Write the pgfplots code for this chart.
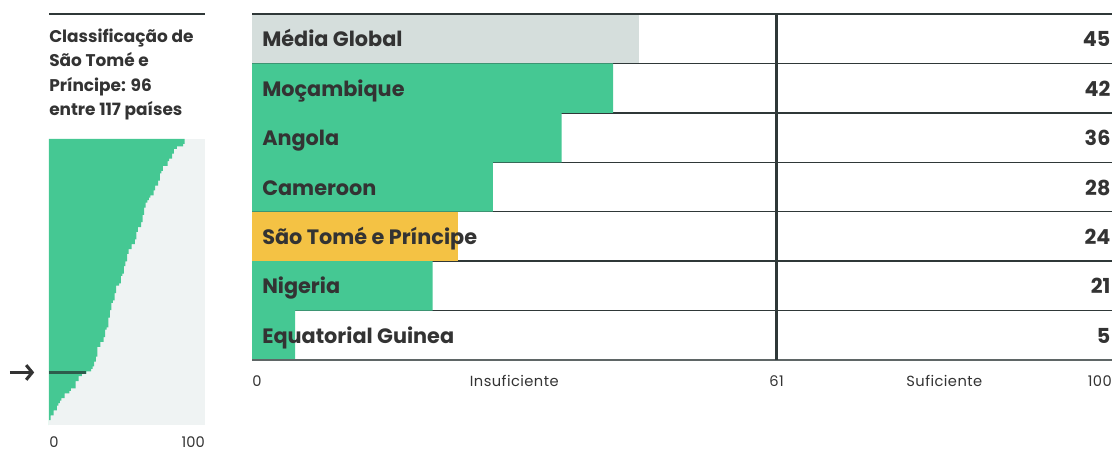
\documentclass[border=0pt]{standalone}
\usepackage{fontspec}
\setmainfont{Poppins}
\usepackage{pgfplots}
\pgfplotsset{compat=1.18}
\usetikzlibrary{arrows.meta}
\definecolor{cgreen}{HTML}{45C893}
\definecolor{cgray}{HTML}{D5DEDC}
\definecolor{cyellow}{HTML}{F4C244}
\definecolor{cbg}{HTML}{EFF3F3}
\definecolor{cline}{HTML}{2F3838}
\definecolor{cbot}{HTML}{5F6666}
\definecolor{ctext}{HTML}{333333}
\definecolor{chl}{HTML}{2D5C4C}
\tikzset{lab/.style={anchor=base west, inner sep=0pt, xshift=7.5pt, yshift=-6.1pt, font=\fontsize{15.6}{18}\selectfont\bfseries, text=ctext},
  val/.style={anchor=base east, inner sep=0pt, xshift=-1pt, yshift=-6.1pt, font=\fontsize{15.5}{18}\selectfont\bfseries, text=ctext},
  bot/.style={inner sep=0pt, yshift=-19.5pt, font=\fontsize{11}{12}\selectfont\addfontfeature{LetterSpace=3}, text=ctext}}
\begin{document}
\begin{tikzpicture}
\useasboundingbox (0,0) rectangle (837pt,337.5pt);
% left title
\draw[cline, line width=1.9pt] (36.75pt,327pt) -- (153.75pt,327pt);
\node[anchor=north west, inner sep=0pt, align=left, font=\fontsize{12.7}{18.3}\selectfont\bfseries, text=ctext] at (36.75pt,316.1pt) {Classificação de\\São Tomé e\\Príncipe: 96\\entre 117 países};
% ranking mini chart
\begin{axis}[at={(36.75pt,18.75pt)}, anchor=south west, scale only axis,
  width=117pt, height=214.5pt, xmin=0, xmax=100, ymin=0.5, ymax=117.5,
  y dir=reverse, hide axis, clip=false]
\fill[cbg] (rel axis cs:0,0) rectangle (rel axis cs:1,1);
\addplot[xbar, bar shift=0pt, bar width=1.95pt, fill=cgreen, draw=none] coordinates {
(87,1) (87,2) (86,3) (82,4) (80,5) (80,6) (79,7) (79,8) (77,9) (76,10)
(76,11) (73,12) (73,13) (72,14) (71,15) (71,16) (71,17) (70,18) (70,19) (68,20)
(68,21) (67,22) (67,23) (65,24) (64,25) (63,26) (62,27) (62,28) (61,29) (61,30)
(61,31) (60,32) (60,33) (60,34) (59,35) (59,36) (57,37) (57,38) (56,39) (56,40)
(56,41) (55,42) (55,43) (53,44) (53,45) (51,46) (51,47) (50,48) (50,49) (50,50)
(49,51) (49,52) (48,53) (48,54) (48,55) (47,56) (46,57) (46,58) (46,59) (45,60)
(43,61) (43,62) (43,63) (42,64) (42,65) (42,66) (41,67) (40,68) (40,69) (40,70)
(39,71) (39,72) (39,73) (38,74) (38,75) (38,76) (38,77) (37,78) (36,79) (36,80)
(36,81) (35,82) (35,83) (33,84) (33,85) (31,86) (31,87) (31,88) (31,89) (30,90)
(30,91) (29,92) (29,93) (28,94) (27,95) (24,96) (21,97) (19,98) (19,99) (17,100)
(17,101) (17,102) (14,103) (13,104) (10,105) (10,106) (8,107) (7,108) (6,109) (5,110)
(5,111) (3,112) (3,113) (1,114) (1,115) (0,116) (0,117)};
\addplot[chl, line width=2.2pt] coordinates {(0,96) (24,96)};
\draw[ctext, line width=2.3pt, -{Straight Barb[length=4.5pt, width=11pt]}] (axis cs:-25,96) -- (axis cs:-9.5,96);
\node[anchor=base west, inner sep=0pt, yshift=-16.5pt, font=\fontsize{11}{12}\selectfont, text=ctext] at (axis cs:0,117.5) {0};
\node[anchor=base east, inner sep=0pt, yshift=-16.5pt, font=\fontsize{11}{12}\selectfont, text=ctext] at (axis cs:100,117.5) {100};
\end{axis}
% main chart
\begin{axis}[at={(189pt,67.5pt)}, anchor=south west, scale only axis,
  width=645pt, height=259.5pt, xmin=0, xmax=100, ymin=-0.5, ymax=6.5,
  hide axis, clip=false]
\pgfplotsinvokeforeach{0.5,1.5,2.5,3.5,4.5,5.5}{
  \draw[cline, line width=1.1pt] (axis cs:0,#1) -- (axis cs:100,#1);
}
\addplot[xbar, bar shift=0pt, bar width=37.07pt, fill=cgray, draw=none] coordinates {(45,6)};
\addplot[xbar, bar shift=0pt, bar width=37.07pt, fill=cgreen, draw=none] coordinates {(42,5) (36,4) (28,3) (21,1) (5,0)};
\addplot[xbar, bar shift=0pt, bar width=37.07pt, fill=cyellow, draw=none] coordinates {(24,2)};
\draw[cline, line width=1.5pt] (axis cs:0,6.5) -- (axis cs:100,6.5);
\draw[cbot, line width=1.5pt] (axis cs:0,-0.5) -- (axis cs:100,-0.5);
\draw[cline, line width=1.9pt] (axis cs:61,-0.5) -- (axis cs:61,6.5);
\node[lab] at (axis cs:0,6) {Média Global};
\node[lab] at (axis cs:0,5) {Moçambique};
\node[lab] at (axis cs:0,4) {Angola};
\node[lab] at (axis cs:0,3) {Cameroon};
\node[lab] at (axis cs:0,2) {São Tomé e Príncipe};
\node[lab] at (axis cs:0,1) {Nigeria};
\node[lab] at (axis cs:0,0) {Equatorial Guinea};
\node[val] at (axis cs:100,6) {45};
\node[val] at (axis cs:100,5) {42};
\node[val] at (axis cs:100,4) {36};
\node[val] at (axis cs:100,3) {28};
\node[val] at (axis cs:100,2) {24};
\node[val] at (axis cs:100,1) {21};
\node[val] at (axis cs:100,0) {5};
\node[bot, anchor=base west] at (axis cs:0,-0.5) {0};
\node[bot, anchor=base] at (axis cs:30.5,-0.5) {Insuficiente};
\node[bot, anchor=base] at (axis cs:61,-0.5) {61};
\node[bot, anchor=base] at (axis cs:80.5,-0.5) {Suficiente};
\node[bot, anchor=base east] at (axis cs:100,-0.5) {100};
\end{axis}
\end{tikzpicture}
\end{document}
